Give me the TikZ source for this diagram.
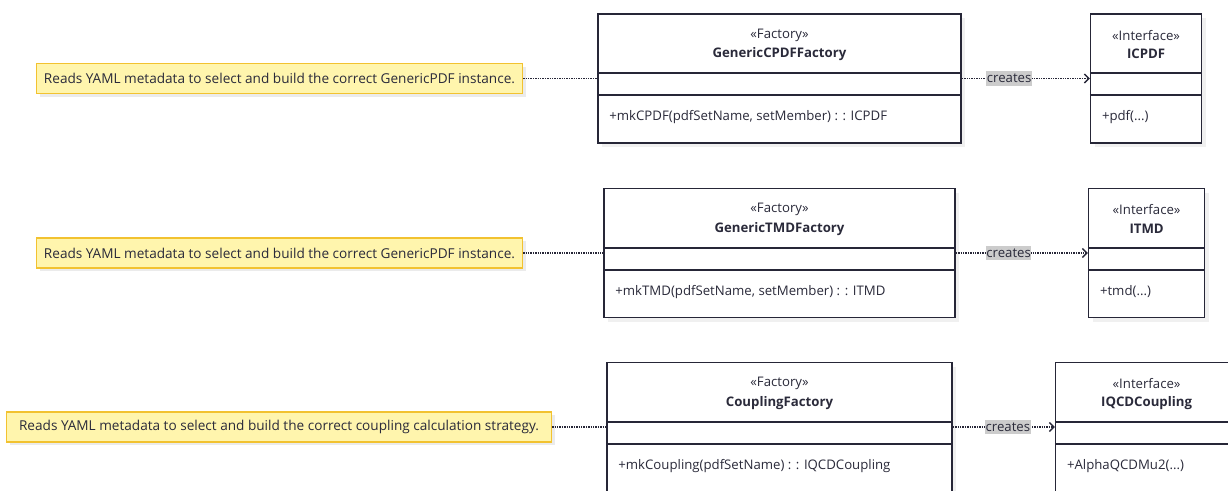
\documentclass[tikz,border=0pt]{standalone}
\usepackage{fontspec}
\setmainfont{Open Sans}
\usepackage{xcolor}
\usetikzlibrary{calc, positioning, arrows.meta, shadows}
\definecolor{noteFill}{HTML}{FFF5AD}
\definecolor{noteLine}{HTML}{F2C230}
\definecolor{boxLine}{HTML}{262637}
\definecolor{txt}{HTML}{2A2A3A}
\definecolor{labelFill}{HTML}{CCCCCC}
\tikzset{
    note/.style={rectangle, draw=noteLine, line width=1.4pt, fill=noteFill, minimum height=30pt, inner xsep=5pt, font=\fontsize{13.6}{16}\selectfont, text=txt, drop shadow={shadow xshift=3pt, shadow yshift=-3pt, fill=black!8, opacity=1}},
    classbox/.style={rectangle, draw=boxLine, line width=1.6pt, fill=white, minimum height=129pt, drop shadow={shadow xshift=4pt, shadow yshift=-4pt, fill=black!6, opacity=1}},
    divider/.style={draw=boxLine, line width=1.6pt},
    stereo/.style={font=\fontsize{13.2}{16}\selectfont, text=txt},
    cname/.style={font=\fontsize{13.2}{16}\selectfont\bfseries, text=txt},
    member/.style={font=\fontsize{13.2}{16}\selectfont, text=txt, anchor=west, inner sep=0pt},
    link/.style={draw=boxLine, line width=1.3pt, dash pattern=on 1.3pt off 1.1pt},
    arrow/.style={link, -{Straight Barb[length=4.5pt, width=9pt, line width=1.4pt]}},
    edgelabel/.style={fill=labelFill, font=\fontsize{13.2}{16}\selectfont, text=txt, inner xsep=0.5pt, inner ysep=3pt}
}
\begin{document}
\begin{tikzpicture}[x=1pt, y=1pt]
    \useasboundingbox (0,0) rectangle (1228,-490);
    \clip (0,0) rectangle (1228,-490);

    % Factories
    \node[classbox, minimum width=363pt] (cpdfFactory) at (779.5,-78.5) {};
    \node[classbox, minimum width=351pt] (tmdFactory) at (779.5,-253) {};
    \node[classbox, minimum width=345pt] (couplingFactory) at (779.5,-427) {};

    % Interfaces
    \node[classbox, minimum width=111pt, right=128pt of cpdfFactory] (icpdf) {};
    \node[classbox, minimum width=116pt, right=132pt of tmdFactory] (itmd) {};
    \node[classbox, minimum width=182pt, right=102pt of couplingFactory] (iqcd) {};

    % Notes
    \node[note, minimum width=486pt, left=74pt of cpdfFactory] (cpdfNote) {Reads YAML metadata to select and build the correct GenericPDF instance.};
    \node[note, minimum width=486pt, left=80pt of tmdFactory] (tmdNote) {Reads YAML metadata to select and build the correct GenericPDF instance.};
    \node[note, minimum width=545pt, left=54pt of couplingFactory] (couplingNote) {Reads YAML metadata to select and build the correct coupling calculation strategy.};

    % Compartments
    \foreach \b in {cpdfFactory, icpdf, tmdFactory, itmd, couplingFactory, iqcd} {
        \draw[divider] ($(\b.north west)+(0,-60)$) -- ($(\b.north east)+(0,-60)$);
        \draw[divider] ($(\b.north west)+(0,-82)$) -- ($(\b.north east)+(0,-82)$);
    }

    % Class texts
    \foreach \b/\s/\n/\m in {
        cpdfFactory/Factory/GenericCPDFFactory/{+mkCPDF(pdfSetName, setMember) : : ICPDF},
        icpdf/Interface/ICPDF/{+pdf(...)},
        tmdFactory/Factory/GenericTMDFactory/{+mkTMD(pdfSetName, setMember) : : ITMD},
        itmd/Interface/ITMD/{+tmd(...)},
        couplingFactory/Factory/CouplingFactory/{+mkCoupling(pdfSetName) : : IQCDCoupling},
        iqcd/Interface/IQCDCoupling/{+AlphaQCDMu2(...)}} {
        \node[stereo] at ($(\b.north)+(0,-22)$) {«\s»};
        \node[cname] at ($(\b.north)+(0,-41)$) {\n};
        \node[member] at ($(\b.north west)+(12,-104)$) {\m};
    }

    % Connections
    \draw[link] (cpdfNote) -- (cpdfFactory);
    \draw[link] (tmdNote) -- (tmdFactory);
    \draw[link] (couplingNote) -- (couplingFactory);

    \draw[arrow] (cpdfFactory) -- node[edgelabel, pos=0.37] {creates} (icpdf);
    \draw[arrow] (tmdFactory) -- node[edgelabel, pos=0.40] {creates} (itmd);
    \draw[arrow] (couplingFactory) -- node[edgelabel, pos=0.54] {creates} (iqcd);
\end{tikzpicture}
\end{document}
